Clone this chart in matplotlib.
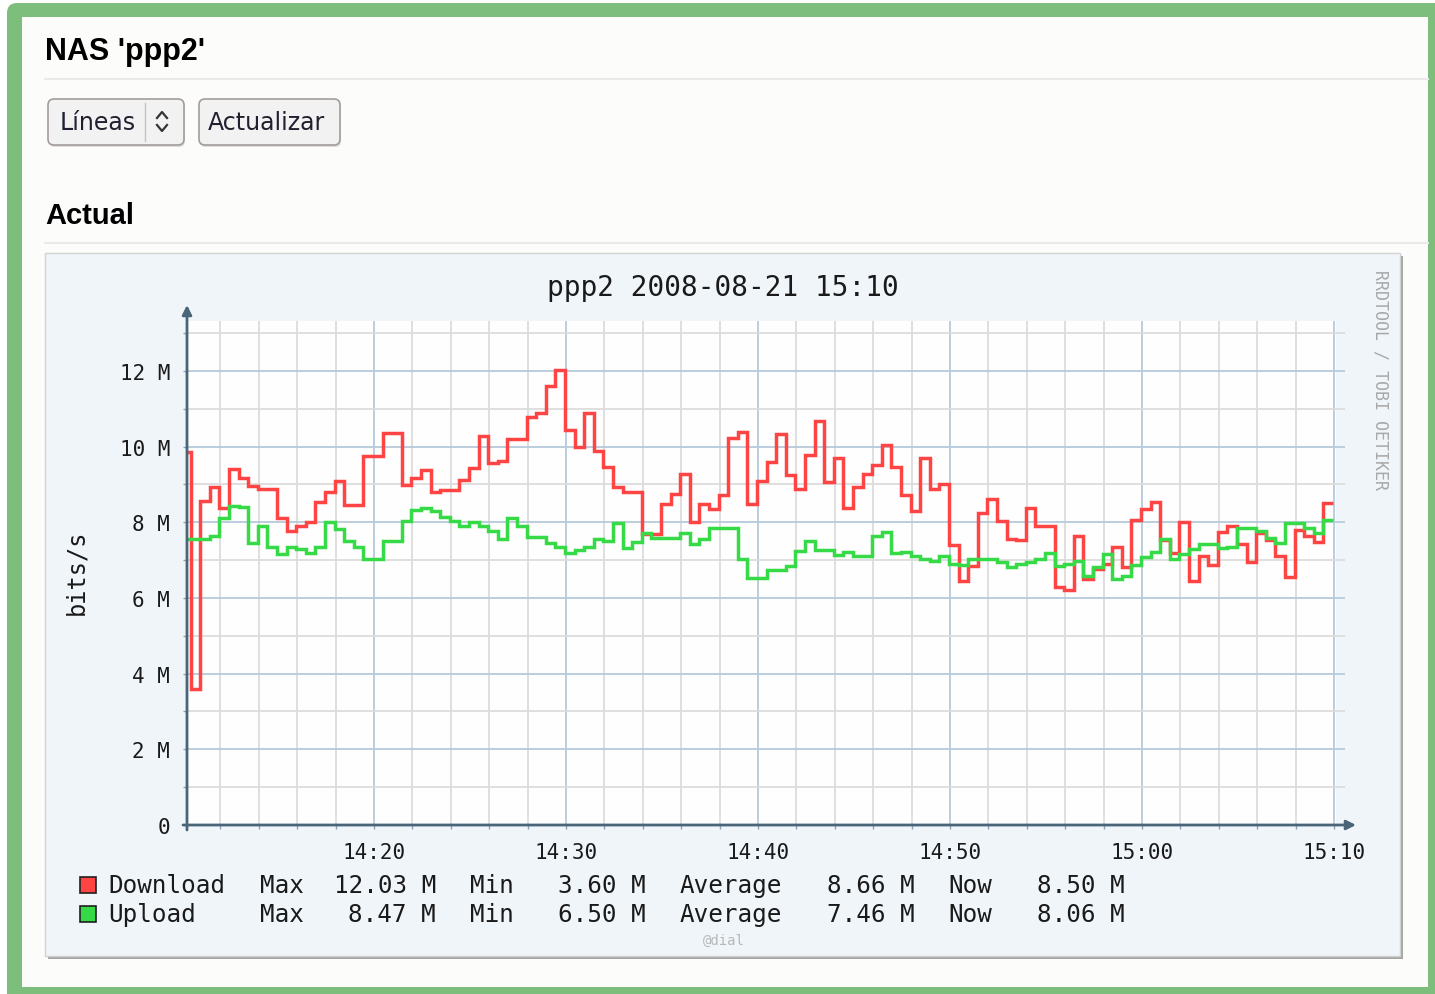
import matplotlib
matplotlib.use("Agg")
import matplotlib.pyplot as plt
import numpy as np
from matplotlib.patches import Rectangle, FancyBboxPatch

# 数据: ppp2 每 30 秒一个采样 (单位 M bits/s), 从 14:10 开始
download = [9.85, 3.60, 8.57, 8.93, 8.39, 9.41, 9.16, 8.95, 8.88, 8.88,
            8.11, 7.78, 7.91, 8.00, 8.53, 8.79, 9.10, 8.46, 8.46, 9.74,
            9.74, 10.37, 10.37, 8.99, 9.17, 9.37, 8.81, 8.86, 8.86, 9.13,
            9.43, 10.29, 9.57, 9.63, 10.20, 10.20, 10.77, 10.90, 11.61, 12.03,
            10.45, 10.00, 10.89, 9.89, 9.45, 8.92, 8.79, 8.79, 7.69, 7.69,
            8.49, 8.75, 9.28, 8.00, 8.49, 8.35, 8.72, 10.24, 10.39, 8.49,
            9.10, 9.60, 10.34, 9.25, 8.88, 9.78, 10.67, 9.06, 9.71, 8.37,
            8.92, 9.28, 9.52, 10.05, 9.45, 8.72, 8.31, 9.71, 8.88, 9.01,
            7.39, 6.45, 6.85, 8.25, 8.62, 8.04, 7.56, 7.52, 8.38, 7.90,
            7.90, 6.28, 6.22, 7.65, 6.50, 6.77, 6.90, 7.34, 6.81, 8.07,
            8.35, 8.53, 7.52, 7.20, 8.02, 6.46, 7.12, 6.87, 7.75, 7.91,
            7.42, 6.96, 7.72, 7.52, 7.10, 6.55, 7.80, 7.63, 7.47, 8.50]
upload = [7.56, 7.56, 7.56, 7.65, 8.11, 8.44, 8.41, 7.45, 7.91, 7.34,
          7.16, 7.34, 7.30, 7.18, 7.36, 8.00, 7.82, 7.51, 7.34, 7.03,
          7.03, 7.51, 7.51, 8.04, 8.33, 8.39, 8.31, 8.13, 8.04, 7.91,
          8.02, 7.91, 7.78, 7.56, 8.11, 7.91, 7.60, 7.60, 7.45, 7.34,
          7.20, 7.26, 7.34, 7.56, 7.51, 7.98, 7.31, 7.47, 7.72, 7.58,
          7.58, 7.58, 7.71, 7.43, 7.56, 7.86, 7.86, 7.86, 7.04, 6.54,
          6.54, 6.75, 6.75, 6.85, 7.25, 7.51, 7.26, 7.26, 7.14, 7.22,
          7.12, 7.12, 7.65, 7.74, 7.20, 7.22, 7.10, 7.04, 6.98, 7.10,
          6.90, 6.87, 7.03, 7.03, 7.03, 6.96, 6.83, 6.90, 6.96, 7.03,
          7.20, 6.85, 6.90, 6.98, 6.59, 6.81, 7.16, 6.50, 6.59, 6.87,
          7.07, 7.22, 7.56, 7.04, 7.16, 7.29, 7.43, 7.43, 7.31, 7.36,
          7.84, 7.84, 7.78, 7.58, 7.45, 7.98, 7.98, 7.84, 7.72, 8.06]

series_names = ["Download", "Upload"]
series_colors = ["#ff4444", "#36d946"]
stat_names = ["Max", "Min", "Average", "Now"]
download_stats = [12.03, 3.60, 8.66, 8.50]
upload_stats = [8.47, 6.50, 7.46, 8.06]

x_ticks = [10, 20, 30, 40, 50, 60]   # 分钟 (从 14:10 起)
x_labels = ["14:20", "14:30", "14:40", "14:50", "15:00", "15:10"]
y_ticks = [0, 2, 4, 6, 8, 10, 12]
y_labels = ["0", "2 M", "4 M", "6 M", "8 M", "10 M", "12 M"]

W, H = 1435, 995
MONO = "DejaVu Sans Mono"

fig = plt.figure(figsize=(W / 100, H / 100), dpi=100, facecolor="white")

# 背景层, 用像素坐标
bg = fig.add_axes([0, 0, 1, 1])
bg.set_xlim(0, W)
bg.set_ylim(H, 0)
bg.axis("off")

# 绿色边框和页面
bg.add_patch(FancyBboxPatch((7, 4), W + 20, H + 20, boxstyle="round,pad=0,rounding_size=10",
                            facecolor="#7dbe7d", edgecolor="none"))
bg.add_patch(Rectangle((22, 18), 1406, 970, facecolor="#fcfcfa", edgecolor="none"))

bg.text(45, 52, "NAS 'ppp2'", family="Liberation Sans", weight="bold", fontsize=22,
        va="center", ha="left", color="black")
bg.plot([45, 1428], [80, 80], color="#eaeaea", lw=1.5)
bg.text(45, 216, "Actual", family="Liberation Sans", weight="bold", fontsize=21,
        va="center", ha="left", color="black")
bg.plot([45, 1428], [244, 244], color="#eaeaea", lw=1.5)

# 按钮
for x0, w in [(48, 136), (199, 141)]:
    bg.add_patch(FancyBboxPatch((x0 + 1, 102), w, 46, boxstyle="round,pad=0,rounding_size=6",
                                facecolor="#dcdcdc", edgecolor="none"))
    bg.add_patch(FancyBboxPatch((x0, 100), w, 46, boxstyle="round,pad=0,rounding_size=6",
                                facecolor="#f2f2f2", edgecolor="#a49c9c", lw=1.2))
bg.plot([145, 145], [104, 142], color="#c4c4c4", lw=1)
bg.plot([157, 162, 167], [119, 113, 119], color="#333333", lw=1.6)
bg.plot([157, 162, 167], [126, 132, 126], color="#333333", lw=1.6)
bg.text(60, 123, "Líneas", family="DejaVu Sans", fontsize=17, va="center", ha="left", color="#202030")
bg.text(208, 123, "Actualizar", family="DejaVu Sans", fontsize=17, va="center", ha="left", color="#202030")

# rrdtool 图片框
bg.add_patch(Rectangle((48, 257), 1355, 703, facecolor="#a6a6a6", edgecolor="none"))
bg.add_patch(Rectangle((45, 254), 1355, 703, facecolor="#f0f5fa", edgecolor="#d2d2d2", lw=1))
bg.add_patch(Rectangle((187, 322), 1149, 504, facecolor="#fefefe", edgecolor="none"))

bg.text(723, 288, "ppp2 2008-08-21 15:10", family=MONO, fontsize=20, ha="center", va="center",
        color="#1a1a1a")
bg.text(76, 572, "bits/s", family=MONO, fontsize=17, rotation=90, ha="center", va="center",
        color="#1a1a1a")
bg.text(1381, 270, "RRDTOOL / TOBI OETIKER", family=MONO, fontsize=12, rotation=-90,
        ha="center", va="top", color="#a8a8a8")
bg.text(724, 941, "@dial", family=MONO, fontsize=10, ha="center", va="center", color="#b8b8b8")

# 图例
stat_left = [260, 470, 680, 948]
value_right = [436, 646, 915, 1125]
for row, (name, color, stats) in enumerate(zip(series_names, series_colors,
                                               [download_stats, upload_stats])):
    y = 886 + row * 29
    bg.add_patch(Rectangle((80, y - 8), 16, 16, facecolor=color, edgecolor="#202020", lw=1.2))
    bg.text(108, y, name, family=MONO, fontsize=17.5, va="center", ha="left", color="#1a1a1a")
    for sname, v, xl, xr in zip(stat_names, stats, stat_left, value_right):
        bg.text(xl, y, sname, family=MONO, fontsize=17.5, va="center", ha="left", color="#1a1a1a")
        bg.text(xr, y, f"{v:.2f} M", family=MONO, fontsize=17.5, va="center", ha="right",
                color="#1a1a1a")

# 数据坐标轴
left, right, top, bottom = 187, 1345, 322, 826
ax = fig.add_axes([left / W, (H - bottom) / H, (right - left) / W, (bottom - top) / H])
ax.set_facecolor("none")
for s in ax.spines.values():
    s.set_visible(False)

edges = np.arange(len(download) + 1) * 0.5 - 0.05
ax.stairs(download, edges, baseline=None, color=series_colors[0], lw=2.5, zorder=3)
ax.stairs(upload, edges, baseline=None, color=series_colors[1], lw=2.5, zorder=4)

ax.set_xlim(0.26, 60.57)
ax.set_ylim(0, 13.32)
ax.set_xticks(x_ticks, x_labels)
ax.set_xticks([m for m in range(2, 60, 2) if m % 10], minor=True)
ax.set_yticks(y_ticks, y_labels)
ax.set_yticks([1, 3, 5, 7, 9, 11, 13], minor=True)
ax.grid(which="major", color="#b6cbdc", lw=1.3, zorder=1)
ax.grid(which="minor", color="#dcdcdc", lw=1.3, zorder=1)
ax.tick_params(which="both", direction="out", length=3, width=1, color="#8da3b5")
ax.tick_params(axis="x", which="major", pad=9)
ax.tick_params(axis="y", which="major", pad=9)
for lab in ax.get_xticklabels() + ax.get_yticklabels():
    lab.set_family(MONO)
    lab.set_fontsize(15)
    lab.set_color("#1a1a1a")

# 坐标轴箭头
top_ax = fig.add_axes([0, 0, 1, 1])
top_ax.set_xlim(0, W)
top_ax.set_ylim(H, 0)
top_ax.axis("off")
top_ax.set_facecolor("none")
arrow = dict(arrowstyle="-|>", color="#4a6578", lw=2, mutation_scale=14, shrinkA=0, shrinkB=0)
top_ax.annotate("", xy=(187, 306), xytext=(187, 831), arrowprops=arrow)
top_ax.annotate("", xy=(1356, 826), xytext=(183, 826), arrowprops=arrow)

plt.savefig("out.png", dpi=100)
